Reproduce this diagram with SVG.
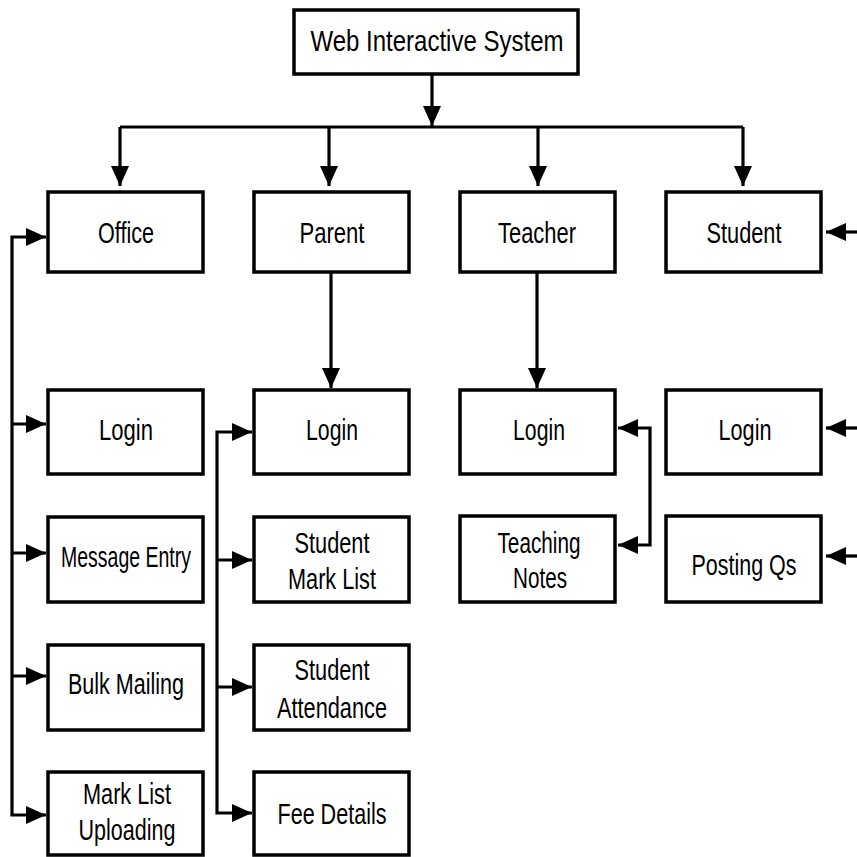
<svg xmlns="http://www.w3.org/2000/svg" width="857" height="857" viewBox="0 0 857 857">
<style>
.box{fill:#fff;stroke:#000;stroke-width:3.5}
.t{font-family:"Liberation Sans",Arial,sans-serif;font-size:29px;fill:#000;text-anchor:middle}
.c{fill:none;stroke:#000;stroke-width:3.2}
</style>
<defs>
<marker id="ah" markerUnits="userSpaceOnUse" markerWidth="22" markerHeight="20" refX="20" refY="9" orient="auto">
<path d="M0,0 L20,9 L0,18 z" fill="#000"/>
</marker>
<marker id="as" markerUnits="userSpaceOnUse" markerWidth="22" markerHeight="20" refX="0" refY="9" orient="auto">
<path d="M20,0 L0,9 L20,18 z" fill="#000"/>
</marker>
</defs>
<rect width="857" height="857" fill="#fff"/>
<g id="connectors">
<line class="c" x1="432" y1="75" x2="432" y2="126" marker-end="url(#ah)"/>
<line class="c" x1="120" y1="127" x2="743" y2="127"/>
<line class="c" x1="120" y1="127" x2="120" y2="186" marker-end="url(#ah)"/>
<line class="c" x1="329" y1="127" x2="329" y2="186" marker-end="url(#ah)"/>
<line class="c" x1="538" y1="127" x2="538" y2="186" marker-end="url(#ah)"/>
<line class="c" x1="743" y1="127" x2="743" y2="186" marker-end="url(#ah)"/>
<line class="c" x1="331" y1="273" x2="331" y2="388" marker-end="url(#ah)"/>
<line class="c" x1="537" y1="273" x2="537" y2="388" marker-end="url(#ah)"/>
<path class="c" d="M46,237 H12 V815 H46" marker-start="url(#as)" marker-end="url(#ah)"/>
<line class="c" x1="12" y1="424" x2="46" y2="424" marker-end="url(#ah)"/>
<line class="c" x1="12" y1="553" x2="46" y2="553" marker-end="url(#ah)"/>
<line class="c" x1="12" y1="676" x2="46" y2="676" marker-end="url(#ah)"/>
<path class="c" d="M252,432 H217 V813 H252" marker-start="url(#as)" marker-end="url(#ah)"/>
<line class="c" x1="217" y1="560" x2="252" y2="560" marker-end="url(#ah)"/>
<line class="c" x1="217" y1="687" x2="252" y2="687" marker-end="url(#ah)"/>
<path class="c" d="M618,428 H650 V545 H618" marker-start="url(#as)" marker-end="url(#ah)"/>
<line class="c" x1="857" y1="232" x2="826" y2="232" marker-end="url(#ah)"/>
<line class="c" x1="857" y1="428" x2="826" y2="428" marker-end="url(#ah)"/>
<line class="c" x1="857" y1="556" x2="826" y2="556" marker-end="url(#ah)"/>
</g>
<g id="root"><rect class="box" x="294" y="10" width="284" height="64"/><text class="t" x="437" y="51" textLength="253" lengthAdjust="spacingAndGlyphs">Web Interactive System</text></g>
<g id="office"><rect class="box" x="48" y="192" width="155" height="80"/><text class="t" x="126" y="243" textLength="56" lengthAdjust="spacingAndGlyphs">Office</text></g>
<g id="parent"><rect class="box" x="254" y="192" width="155" height="80"/><text class="t" x="332" y="243" textLength="65" lengthAdjust="spacingAndGlyphs">Parent</text></g>
<g id="teacher"><rect class="box" x="460" y="192" width="155" height="80"/><text class="t" x="537" y="243" textLength="78" lengthAdjust="spacingAndGlyphs">Teacher</text></g>
<g id="student"><rect class="box" x="666" y="192" width="155" height="80"/><text class="t" x="744" y="243" textLength="75" lengthAdjust="spacingAndGlyphs">Student</text></g>
<g id="office-login"><rect class="box" x="48" y="390" width="155" height="84"/><text class="t" x="126" y="440" textLength="54" lengthAdjust="spacingAndGlyphs">Login</text></g>
<g id="message-entry"><rect class="box" x="48" y="517" width="155" height="85"/><text class="t" x="126" y="567" textLength="130" lengthAdjust="spacingAndGlyphs">Message Entry</text></g>
<g id="bulk-mailing"><rect class="box" x="48" y="645" width="155" height="85"/><text class="t" x="126" y="694" textLength="116" lengthAdjust="spacingAndGlyphs">Bulk Mailing</text></g>
<g id="mark-list-uploading"><rect class="box" x="48" y="772" width="155" height="83"/><text class="t" x="127" y="804" textLength="88" lengthAdjust="spacingAndGlyphs">Mark List</text><text class="t" x="127" y="840" textLength="97" lengthAdjust="spacingAndGlyphs">Uploading</text></g>
<g id="parent-login"><rect class="box" x="254" y="390" width="155" height="84"/><text class="t" x="332" y="440" textLength="52" lengthAdjust="spacingAndGlyphs">Login</text></g>
<g id="student-mark-list"><rect class="box" x="254" y="517" width="155" height="85"/><text class="t" x="332" y="553" textLength="75" lengthAdjust="spacingAndGlyphs">Student</text><text class="t" x="332" y="589" textLength="88" lengthAdjust="spacingAndGlyphs">Mark List</text></g>
<g id="student-attendance"><rect class="box" x="254" y="645" width="155" height="85"/><text class="t" x="332" y="680" textLength="75" lengthAdjust="spacingAndGlyphs">Student</text><text class="t" x="332" y="718" textLength="110" lengthAdjust="spacingAndGlyphs">Attendance</text></g>
<g id="fee-details"><rect class="box" x="254" y="772" width="155" height="83"/><text class="t" x="332" y="824" textLength="109" lengthAdjust="spacingAndGlyphs">Fee Details</text></g>
<g id="teacher-login"><rect class="box" x="460" y="390" width="155" height="84"/><text class="t" x="539" y="440" textLength="52" lengthAdjust="spacingAndGlyphs">Login</text></g>
<g id="teaching-notes"><rect class="box" x="460" y="516" width="155" height="86"/><text class="t" x="539" y="553" textLength="83" lengthAdjust="spacingAndGlyphs">Teaching</text><text class="t" x="540" y="588" textLength="54" lengthAdjust="spacingAndGlyphs">Notes</text></g>
<g id="student-login"><rect class="box" x="666" y="390" width="155" height="84"/><text class="t" x="745" y="440" textLength="53" lengthAdjust="spacingAndGlyphs">Login</text></g>
<g id="posting-qs"><rect class="box" x="666" y="516" width="155" height="86"/><text class="t" x="744" y="575" textLength="105" lengthAdjust="spacingAndGlyphs">Posting Qs</text></g>
</svg>
